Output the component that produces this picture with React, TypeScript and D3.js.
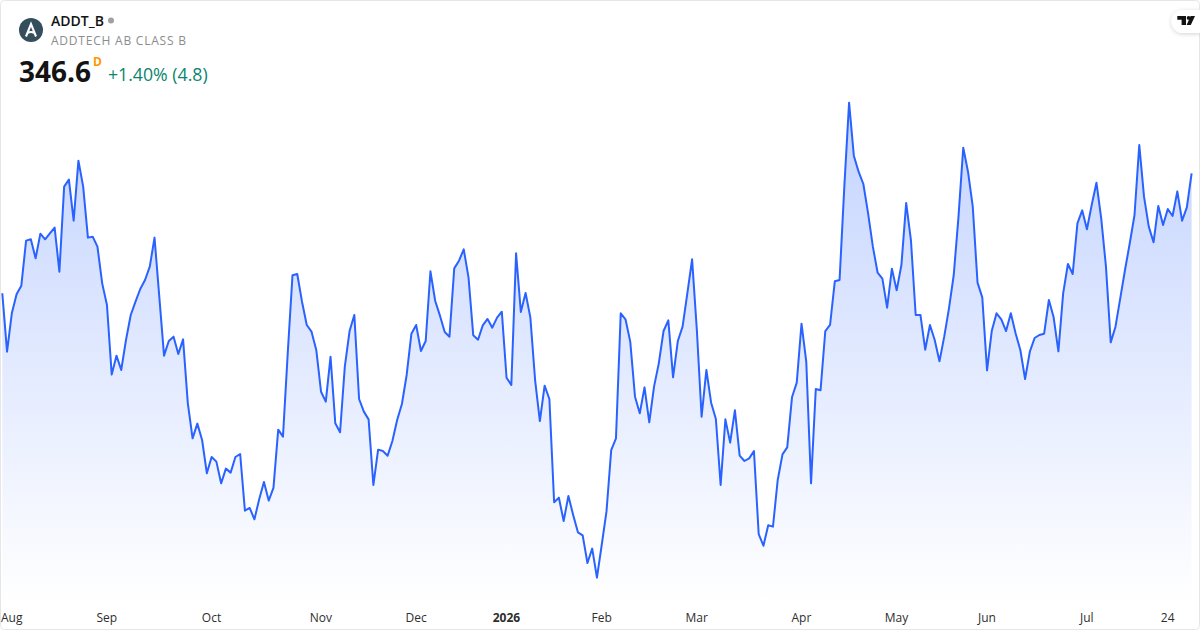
import React, { useEffect, useRef } from 'react';
import * as d3 from 'd3';

const width = 1200;
const height = 630;

// daily closes
const closes = [
  329.46, 321.12, 326.6, 329.31, 330.55, 336.98, 337.17, 334.46, 337.98, 337.17,
  338.03, 338.84, 332.55, 344.69, 345.69, 339.84, 348.41, 344.69, 337.41, 337.55,
  336.12, 330.88, 327.79, 317.84, 320.55, 318.5, 322.79, 326.36, 328.26, 330.07,
  331.36, 333.26, 337.41, 328.98, 320.55, 322.65, 323.26, 320.79, 322.88, 313.74,
  308.74, 310.84, 308.5, 303.74, 306.07, 305.41, 302.31, 304.41, 303.84, 306.07,
  306.5, 298.41, 298.79, 297.17, 300.03, 302.5, 299.84, 301.65, 309.98, 308.98,
  320.88, 332.03, 332.22, 328.26, 324.93, 323.98, 321.36, 315.4, 313.98, 320.4,
  310.88, 309.6, 318.98, 324.07, 326.36, 314.36, 312.55, 311.45, 302.07, 307.12,
  306.93, 306.26, 308.36, 311.36, 313.64, 317.79, 323.69, 324.93, 321.21, 322.64,
  332.6, 328.36, 326.26, 323.93, 323.26, 333.02, 334.12, 335.74, 331.74, 323.45,
  322.83, 324.88, 325.79, 324.55, 325.98, 326.83, 317.4, 316.36, 335.17, 326.79,
  329.5, 326.02, 317.07, 311.21, 316.26, 314.36, 299.6, 300.26, 296.93, 300.5,
  297.79, 295.31, 294.88, 290.93, 292.98, 288.83, 293.5, 298.26, 307.07, 308.74,
  326.6, 325.74, 322.55, 314.69, 312.31, 316.02, 311.02, 316.12, 319.45, 324.07,
  325.6, 317.45, 322.64, 324.69, 329.45, 334.31, 324.21, 311.83, 318.5, 313.83,
  311.5, 302.07, 311.45, 308.12, 312.74, 306.26, 305.5, 305.88, 306.93, 295.07,
  293.4, 296.31, 296.12, 302.79, 306.45, 307.45, 314.6, 316.69, 325.12, 319.69,
  302.31, 315.79, 315.6, 324.07, 324.93, 331.17, 331.36, 344.69, 356.69, 349.12,
  346.83, 345.07, 340.88, 336.12, 332.4, 331.55, 327.4, 332.98, 329.88, 333.5,
  342.36, 337.07, 326.36, 326.36, 321.4, 324.93, 322.79, 319.74, 323.26, 327.31,
  332.07, 340.4, 350.26, 346.83, 341.83, 330.98, 328.88, 318.45, 324.12, 326.6,
  325.74, 324.07, 326.6, 323.74, 321.36, 317.21, 321.12, 323.07, 323.5, 323.69,
  328.5, 326.02, 321.17, 329.45, 333.64, 332.21, 339.45, 341.31, 338.6, 342.07,
  345.26, 340.17, 333.26, 322.45, 324.69, 328.74, 332.79, 336.6, 340.64, 350.64,
  343.26, 338.98, 336.74, 341.93, 339.21, 341.5, 340.5, 344.02, 339.83, 341.74,
  346.6,
];

// trading-day position of each label on the time axis
const tickDays = [2, 22, 44, 67, 87, 106, 126, 146, 168, 188, 207, 228, 245];
const tickLabels = ['Aug', 'Sep', 'Oct', 'Nov', 'Dec', '2026', 'Feb', 'Mar', 'Apr', 'May', 'Jun', 'Jul', '24'];

const font = '"Open Sans", sans-serif';

const App: React.FC = () => {
  const axisRef = useRef<SVGGElement | null>(null);

  const x = d3.scaleLinear().domain([0, closes.length - 1]).range([2.3, 1191.6]);
  const y = d3.scaleLinear().domain([289, 357]).range([576.5, 100.5]);

  const line = d3.line<number>().x((_, i) => x(i)).y(d => y(d));
  const area = d3.area<number>().x((_, i) => x(i)).y0(603).y1(d => y(d));

  useEffect(() => {
    if (!axisRef.current) return;
    const axis = d3.axisBottom(x)
      .tickValues(tickDays)
      .tickSize(0)
      .tickPadding(0)
      .tickFormat((_, i) => tickLabels[i]);
    const g = d3.select(axisRef.current);
    g.selectAll('*').remove();
    g.call(axis);
    g.select('.domain').remove();
    g.selectAll('text')
      .attr('dy', 0)
      .attr('y', 0)
      .attr('x', -0.6)
      .style('font-family', font)
      .style('font-size', '12px')
      .style('fill', '#2e2e2e')
      .style('font-weight', (_, i) => (tickLabels[i] === '2026' ? 700 : 400));
  }, []);

  return (
    <svg
      width={width}
      height={height}
      viewBox={`0 0 ${width} ${height}`}
      style={{ position: 'absolute', left: 0, top: 0, background: '#fff' }}
    >
      <defs>
        <linearGradient id="fade" gradientUnits="userSpaceOnUse" x1="0" x2="0" y1="100" y2="603">
          <stop offset="0" stopColor="#2962ff" stopOpacity={0.28} />
          <stop offset="1" stopColor="#2962ff" stopOpacity={0} />
        </linearGradient>
        <filter id="badge" x="-30%" y="-30%" width="160%" height="170%">
          <feDropShadow dx="0" dy="1" stdDeviation="2" floodColor="#000" floodOpacity={0.18} />
        </filter>
      </defs>

      <path d={area(closes) ?? ''} fill="url(#fade)" />
      <path d={line(closes) ?? ''} fill="none" stroke="#2962ff" strokeWidth={2} strokeLinejoin="round" />

      <g ref={axisRef} transform="translate(0,622)" />

      {/* header */}
      <circle cx={31} cy={30} r={12} fill="#344e5c" />
      <path d="M26 36.5 L31 24 L36 36.5 M28 33 Q31 31 34 33" fill="none" stroke="#fff" strokeWidth={2.1} />
      <text x={51} y={26} fontFamily={font} fontSize={14} fontWeight={600} fill="#131313">ADDT_B</text>
      <circle cx={111} cy={20.5} r={3} fill="#a0a0a0" />
      <text x={51} y={45} fontFamily={font} fontSize={12} letterSpacing={0.78} fill="#8c8c8c">ADDTECH AB CLASS B</text>
      <text x={19} y={82} fontFamily={font} fontSize={28} fontWeight={700} fill="#131313">346.6</text>
      <text x={93} y={66} fontFamily={font} fontSize={12} fontWeight={700} fill="#ff9800">D</text>
      <text x={108} y={81} fontFamily={font} fontSize={17.7} fill="#0b8570">+1.40% (4.8)</text>

      {/* frame */}
      <rect x={0.5} y={0.5} width={width - 1} height={height - 1} rx={4} fill="none" stroke="#e6e6e6" />

      {/* badge */}
      <path d="M1200 10 H1183 A11.5 11.5 0 0 0 1183 33 H1200 Z" fill="#fff" filter="url(#badge)" />
      <path d="M1177.3 16 H1186 V25 H1181.6 V19.8 H1177.3 Z M1190.6 16 H1195 L1190.8 25 H1186.6 Z" fill="#131313" />
      <circle cx={1188.6} cy={17.9} r={1.9} fill="#131313" />
    </svg>
  );
};

export default App;
